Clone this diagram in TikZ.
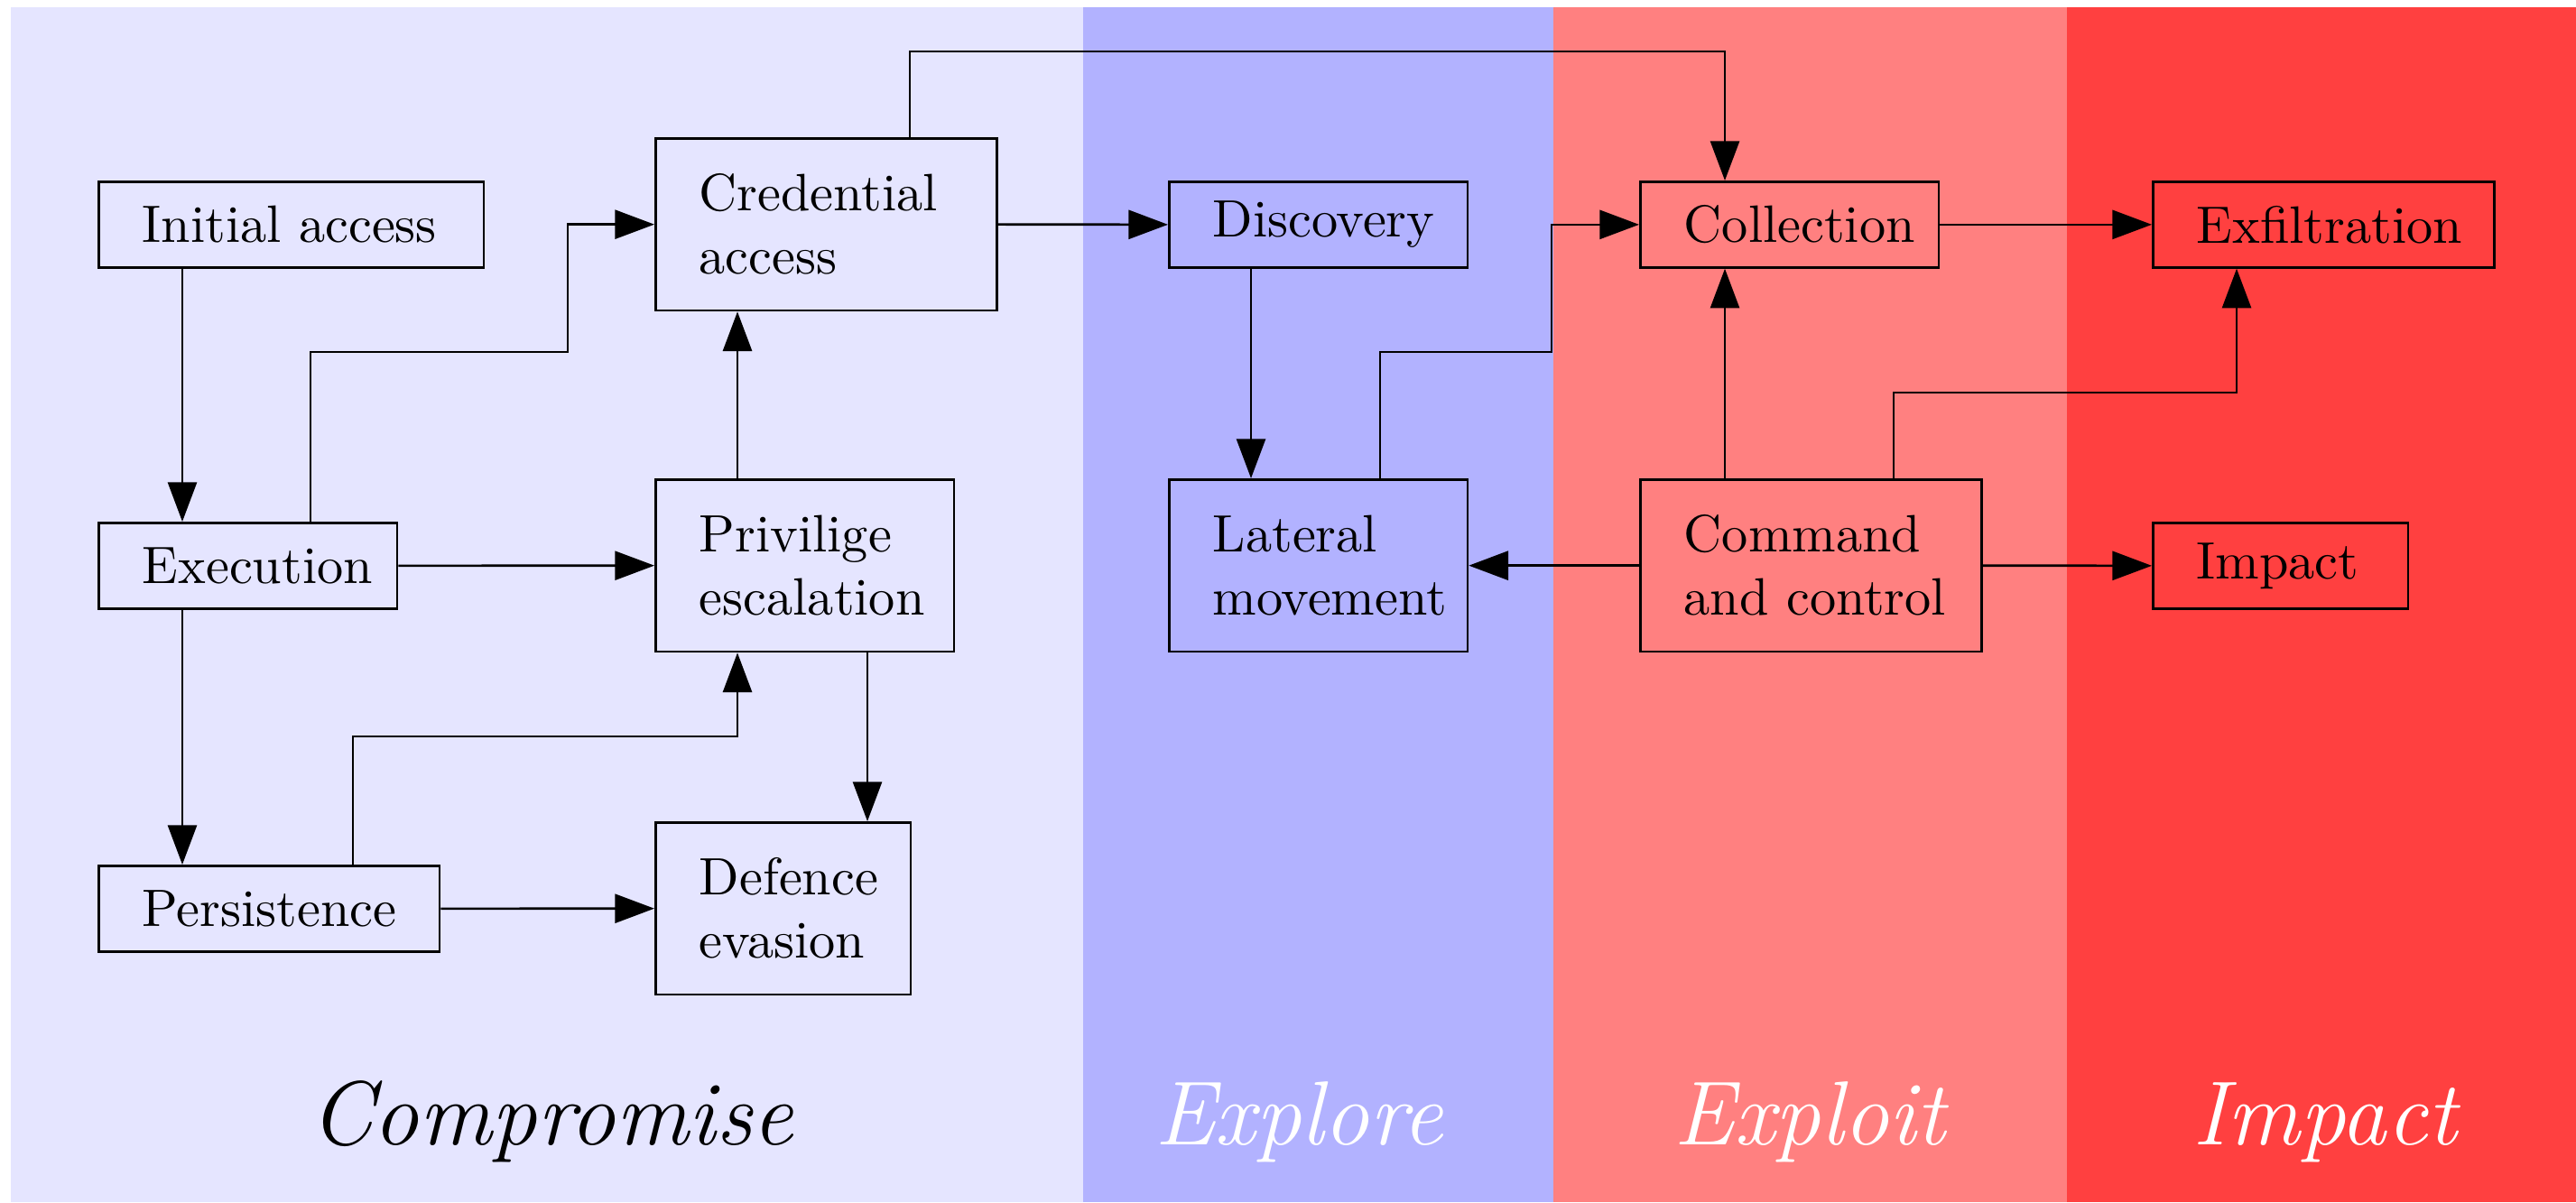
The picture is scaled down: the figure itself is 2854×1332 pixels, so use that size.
\documentclass[tikz,border=0pt]{standalone}
\usetikzlibrary{arrows.meta}
\hyphenpenalty=10000
\exhyphenpenalty=10000
\begin{document}
\begin{tikzpicture}[x=0.1715pt, y=-0.1715pt,
  stage/.style={draw=black, line width=0.45pt, anchor=north west,
    inner xsep=8.3pt, inner ysep=2pt, align=left, font=\normalsize},
  one/.style={minimum height=16.3pt},
  two/.style={minimum height=32.7pt},
  wA/.style={text width=31.9pt},
  wB/.style={text width=40.1pt},
  wC/.style={text width=48.2pt},
  wD/.style={text width=56.6pt},
  flow/.style={line width=0.45pt, -{Triangle[length=7.5pt,width=5.5pt]}},
  phase/.style={anchor=base, font=\LARGE\itshape}
]
\useasboundingbox (0,0) rectangle (2854,1332);

% phase bands
\fill[blue!10] (12,8) rectangle (1200,1332);
\fill[blue!30] (1200,8) rectangle (1721,1332);
\fill[red!50]  (1721,8) rectangle (2290,1332);
\fill[red!75]  (2290,8) rectangle (2854,1332);

% tactics
\node[stage, one, wD] (init)  at (108,200) {\mbox{Initial access}};
\node[stage, one, wB] (exec)  at (108,578) {Execution};
\node[stage, one, wC] (pers)  at (108,958) {Persistence};
\node[stage, two, wC] (cred)  at (725,152) {Credential\\access};
\node[stage, two, wB] (priv)  at (725,530) {Privilige\\escalation};
\node[stage, two, wA] (def)   at (725,910) {Defence\\evasion};
\node[stage, one, wB] (disc)  at (1294,200) {Discovery};
\node[stage, two, wB] (lat)   at (1294,530) {Lateral\\movement};
\node[stage, one, wB] (coll)  at (1816,200) {Collection};
\node[stage, two, wC] (cc)    at (1816,530) {Command\\\mbox{and control}};
\node[stage, one, wC] (exfil) at (2384,200) {Exfiltration};
\node[stage, one, wA] (imp)   at (2384,578) {Impact};

% routing points
\coordinate (xa) at (202,0);
\coordinate (xb) at (344,0);
\coordinate (ja) at (629,390);
\coordinate (xc) at (391,0);
\coordinate (jb) at (817,816);
\coordinate (xd) at (961,0);
\coordinate (xe) at (1008,0);
\coordinate (jc) at (1911,57);
\coordinate (xf) at (1386,0);
\coordinate (xg) at (1529,0);
\coordinate (jd) at (1719,390);
\coordinate (xh) at (2098,0);
\coordinate (je) at (2478,435);

% connectors
\draw[flow] (init.south -| xa) -- (exec.north -| xa);
\draw[flow] (exec.south -| xa) -- (pers.north -| xa);
\draw[flow] (exec.north -| xb) |- (ja) |- (cred.west);
\draw[flow] (exec.east) -- (priv.west);
\draw[flow] (pers.north -| xc) |- (jb) -- (priv.south -| jb);
\draw[flow] (pers.east) -- (def.west);
\draw[flow] (priv.north -| jb) -- (cred.south -| jb);
\draw[flow] (priv.south -| xd) -- (def.north -| xd);
\draw[flow] (cred.east) -- (disc.west);
\draw[flow] (cred.north -| xe) |- (jc) -- (coll.north -| jc);
\draw[flow] (disc.south -| xf) -- (lat.north -| xf);
\draw[flow] (lat.north -| xg) |- (jd) |- (coll.west);
\draw[flow] (cc.north -| jc) -- (coll.south -| jc);
\draw[flow] (cc.north -| xh) |- (je) -- (exfil.south -| je);
\draw[flow] (cc.west) -- (lat.east);
\draw[flow] (cc.east) -- (imp.west);
\draw[flow] (coll.east) -- (exfil.west);

% phase names
\node[phase, text=black] (pcomp) at (611,1268) {Compromise};
\node[phase, text=white] (pexpl) at (1439,1268) {Explore};
\node[phase, text=white] (pexpt) at (2005,1268) {Exploit};
\node[phase, text=white] (pimp)  at (2576,1268) {Impact};
\end{tikzpicture}
\end{document}
